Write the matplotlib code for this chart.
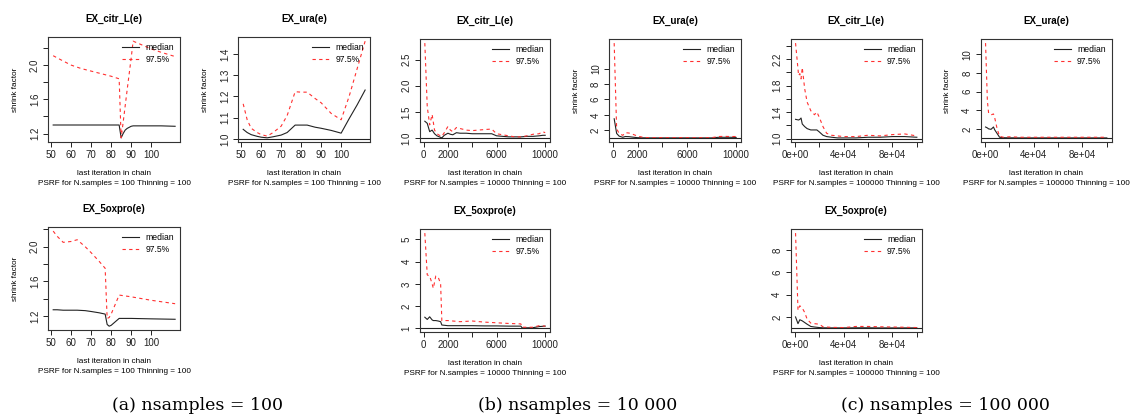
import matplotlib.pyplot as plt

# gelman plots
# (a) nsamples = 100
x_a_citr = [51, 55, 60, 65, 70, 75, 80, 84, 85, 86, 87, 88, 90, 91, 95, 100, 105, 112]
med_a_citr = [1.30, 1.30, 1.30, 1.30, 1.30, 1.30, 1.30, 1.30, 1.15, 1.20, 1.24, 1.26, 1.285, 1.29, 1.29, 1.29, 1.29, 1.285]
up_a_citr = [2.11, 2.06, 2.00, 1.96, 1.93, 1.90, 1.87, 1.84, 1.15, 1.33, 1.52, 1.71, 2.08, 2.28, 2.24, 2.19, 2.15, 2.10]

x_a_ura = [51, 53, 55, 58, 60, 63, 66, 70, 73, 77, 80, 83, 87, 90, 95, 100, 104, 108, 112]
med_a_ura = [1.045, 1.03, 1.02, 1.012, 1.008, 1.005, 1.01, 1.018, 1.03, 1.065, 1.065, 1.065, 1.055, 1.05, 1.04, 1.027, 1.095, 1.16, 1.23]
up_a_ura = [1.165, 1.09, 1.05, 1.03, 1.02, 1.013, 1.03, 1.06, 1.11, 1.222, 1.22, 1.22, 1.19, 1.17, 1.12, 1.09, 1.20, 1.33, 1.46]

x_a_5ox = [51, 53, 56, 60, 63, 67, 70, 74, 77, 78, 79, 80, 82, 84, 90, 100, 112]
med_a_5ox = [1.27, 1.27, 1.265, 1.265, 1.265, 1.26, 1.25, 1.235, 1.22, 1.10, 1.08, 1.09, 1.13, 1.17, 1.17, 1.165, 1.16]
up_a_5ox = [2.18, 2.12, 2.05, 2.06, 2.08, 2.00, 1.93, 1.83, 1.75, 1.17, 1.18, 1.22, 1.33, 1.44, 1.42, 1.38, 1.34]

# (b) nsamples = 10 000
x_b_citr = [100, 300, 500, 700, 900, 1100, 1300, 1500, 1700, 2000, 2200, 2400, 2700, 3000, 3500, 4000,
            4500, 5000, 5600, 6000, 6500, 7000, 7500, 8000, 8500, 9000, 9500, 9800, 10000]
med_b_citr = [1.32, 1.28, 1.12, 1.15, 1.08, 1.04, 1.02, 1.00, 1.05, 1.09, 1.07, 1.06, 1.10, 1.09, 1.09, 1.08,
              1.08, 1.08, 1.08, 1.04, 1.03, 1.02, 1.02, 1.02, 1.03, 1.03, 1.04, 1.05, 1.05]
up_b_citr = [2.82, 1.60, 1.25, 1.45, 1.15, 1.08, 1.05, 1.03, 1.10, 1.22, 1.15, 1.12, 1.20, 1.18, 1.15, 1.14,
             1.15, 1.16, 1.17, 1.08, 1.06, 1.04, 1.02, 1.02, 1.04, 1.07, 1.08, 1.12, 1.10]

x_b_ura = [100, 300, 500, 800, 1000, 1300, 1600, 2000, 2500, 3000, 4000, 5000, 6000, 7000, 8000, 8600, 9000, 9500, 10000]
med_b_ura = [3.5, 1.6, 1.25, 1.1, 1.2, 1.18, 1.12, 1.05, 1.03, 1.02, 1.02, 1.02, 1.02, 1.02, 1.02, 1.1, 1.1, 1.1, 1.08]
up_b_ura = [13.3, 2.2, 1.6, 1.35, 1.7, 1.65, 1.5, 1.25, 1.08, 1.05, 1.05, 1.05, 1.05, 1.04, 1.05, 1.2, 1.22, 1.2, 1.2]

x_b_5ox = [100, 300, 500, 700, 800, 1000, 1200, 1400, 1500, 2000, 3000, 4000, 5000, 6000, 7000, 8000, 8100, 9000, 9500, 10000]
med_b_5ox = [1.5, 1.4, 1.52, 1.38, 1.35, 1.35, 1.33, 1.3, 1.15, 1.12, 1.12, 1.12, 1.11, 1.11, 1.1, 1.1, 1.02, 1.03, 1.08, 1.1]
up_b_5ox = [5.28, 3.4, 3.35, 3.0, 2.8, 3.35, 3.3, 3.0, 1.35, 1.35, 1.3, 1.33, 1.28, 1.25, 1.22, 1.2, 1.05, 1.05, 1.12, 1.1]

# (c) nsamples = 100 000
x_c_citr = [500, 3000, 4000, 5000, 6000, 8000, 10000, 13000, 16000, 18000, 20000, 23000, 26000, 30000, 35000,
            40000, 50000, 60000, 70000, 80000, 90000, 100000]
med_c_citr = [1.29, 1.28, 1.29, 1.31, 1.22, 1.18, 1.15, 1.13, 1.13, 1.13, 1.10, 1.05, 1.03, 1.02, 1.01,
              1.01, 1.01, 1.02, 1.02, 1.03, 1.03, 1.02]
up_c_citr = [2.44, 1.95, 1.98, 1.90, 2.07, 1.75, 1.55, 1.42, 1.36, 1.40, 1.32, 1.18, 1.08, 1.05, 1.04,
             1.03, 1.03, 1.05, 1.04, 1.06, 1.07, 1.04]

x_c_ura = [500, 2000, 3000, 5000, 7000, 8000, 10000, 12000, 15000, 20000, 30000, 40000, 60000, 80000, 100000]
med_c_ura = [2.2, 2.1, 2.0, 1.95, 2.2, 1.9, 1.5, 1.1, 1.05, 1.04, 1.03, 1.03, 1.03, 1.03, 1.03]
up_c_ura = [11.2, 5.0, 3.7, 3.5, 3.6, 3.2, 2.0, 1.2, 1.1, 1.15, 1.1, 1.1, 1.1, 1.1, 1.1]

x_c_5ox = [500, 2500, 4000, 6000, 8000, 10000, 13000, 16000, 20000, 23000, 30000, 40000, 50000, 60000,
           70000, 80000, 90000, 100000]
med_c_5ox = [2.0, 1.4, 1.75, 1.65, 1.5, 1.35, 1.15, 1.1, 1.05, 1.03, 1.02, 1.02, 1.03, 1.03, 1.02, 1.02, 1.02, 1.02]
up_c_5ox = [9.5, 2.6, 3.0, 2.8, 2.4, 1.8, 1.45, 1.4, 1.35, 1.12, 1.07, 1.05, 1.15, 1.15, 1.12, 1.1, 1.08, 1.05]

captions = ['(a) nsamples = 100', '(b) nsamples = 10 000', '(c) nsamples = 100 000']

# tick sets
xt_a = [50, 60, 70, 80, 90, 100]
xl_a = ['50', '60', '70', '80', '90', '100']
xt_b = [0, 2000, 4000, 6000, 8000, 10000]
xl_b = ['0', '2000', '', '6000', '', '10000']
xt_c = [0, 20000, 40000, 60000, 80000, 100000]
xl_c = ['0e+00', '', '4e+04', '', '8e+04', '']

W, H = 1131, 417
plt.rcParams['font.family'] = ['Liberation Sans', 'DejaVu Sans']
fig = plt.figure(figsize=(W / 100, H / 100), dpi=100)

BLK = '#222222'
RED = '#ff3030'


def panel(box, title, x, med, up, nsamp, xt, xl, yt, yl, ylab=True):
    l, t, r, b = box
    ax = fig.add_axes([l / W, 1 - b / H, (r - l) / W, (b - t) / H])
    ax.plot(x, med, color=BLK, lw=0.8, label='median')
    ax.plot(x, up, color=RED, lw=0.8, dashes=(3, 3), label='97.5%')
    lo = min(med + up)
    hi = max(med + up)
    ax.set_ylim(lo - 0.04 * (hi - lo), hi + 0.04 * (hi - lo))
    ax.set_xlim(x[0] - 0.04 * (x[-1] - x[0]), x[-1] + 0.04 * (x[-1] - x[0]))
    ax.axhline(1, color=BLK, lw=0.8)
    ax.set_xticks(xt)
    ax.set_xticklabels(xl)
    ax.set_yticks(yt)
    ax.set_yticklabels(yl)
    ax.tick_params(direction='out', length=3.6, width=0.7, labelsize=7, pad=2.5, colors='#222222')
    ax.tick_params(axis='y', labelrotation=90)
    for lb in ax.get_yticklabels():
        lb.set_va('center')
    for s in ax.spines.values():
        s.set_color('#333333')
        s.set_linewidth(0.8)
    ax.annotate(title, xy=(0.5, 1), xycoords='axes fraction', xytext=(0, 13),
                textcoords='offset points', ha='center', va='center',
                fontsize=7, fontweight='bold')
    ax.annotate('last iteration in chain', xy=(0.5, 0), xycoords='axes fraction',
                xytext=(0, -22.8), textcoords='offset points', ha='center', va='center', fontsize=5.9)
    ax.annotate('PSRF for N.samples = %d Thinning = 100' % nsamp, xy=(0.5, 0), xycoords='axes fraction',
                xytext=(0, -30), textcoords='offset points', ha='center', va='center', fontsize=5.9)
    if ylab:
        ax.annotate('shrink factor', xy=(0, 0.5), xycoords='axes fraction', xytext=(-23.8, 0),
                    textcoords='offset points', ha='center', va='center', rotation=90, fontsize=5.9)
    ax.legend(loc='upper right', frameon=False, fontsize=6.2, handlelength=2.0,
              handletextpad=0.7, labelspacing=0.35, borderaxespad=0.4, borderpad=0.3)
    return ax


yt_a1 = [1.2, 1.4, 1.6, 1.8, 2.0, 2.2]
yl_a1 = ['1.2', '', '1.6', '', '2.0', '']
panel((48.3, 37.3, 180, 141.7), 'EX_citr_L(e)', x_a_citr, med_a_citr, up_a_citr, 100,
      xt_a, xl_a, yt_a1, yl_a1)
panel((238.3, 37.3, 370, 141.7), 'EX_ura(e)', x_a_ura, med_a_ura, up_a_ura, 100,
      xt_a, xl_a, [1.0, 1.1, 1.2, 1.3, 1.4], ['1.0', '1.1', '1.2', '1.3', '1.4'])
panel((48.3, 227.3, 180, 330), 'EX_5oxpro(e)', x_a_5ox, med_a_5ox, up_a_5ox, 100,
      xt_a, xl_a, yt_a1, yl_a1)

panel((420, 39.3, 550, 141.7), 'EX_citr_L(e)', x_b_citr, med_b_citr, up_b_citr, 10000,
      xt_b, xl_b, [1.0, 1.5, 2.0, 2.5], ['1.0', '1.5', '2.0', '2.5'], ylab=False)
panel((609.3, 39.3, 741, 141.7), 'EX_ura(e)', x_b_ura, med_b_ura, up_b_ura, 10000,
      xt_b, xl_b, [2, 4, 6, 8, 10], ['2', '4', '6', '8', '10'])
panel((420, 229.3, 550, 331.7), 'EX_5oxpro(e)', x_b_5ox, med_b_5ox, up_b_5ox, 10000,
      xt_b, xl_b, [1, 2, 3, 4, 5], ['1', '2', '3', '4', '5'], ylab=False)

yt_c1 = [1.0, 1.2, 1.4, 1.6, 1.8, 2.0, 2.2, 2.4]
yl_c1 = ['1.0', '', '1.4', '', '1.8', '', '2.2', '']
panel((790.7, 39.3, 921.7, 141.7), 'EX_citr_L(e)', x_c_citr, med_c_citr, up_c_citr, 100000,
      xt_c, xl_c, yt_c1, yl_c1, ylab=False)
panel((980.7, 39.3, 1111.7, 141.7), 'EX_ura(e)', x_c_ura, med_c_ura, up_c_ura, 100000,
      xt_c, xl_c, [2, 4, 6, 8, 10], ['2', '4', '6', '8', '10'])
panel((790.7, 229.3, 921.7, 331.7), 'EX_5oxpro(e)', x_c_5ox, med_c_5ox, up_c_5ox, 100000,
      xt_c, xl_c, [2, 4, 6, 8], ['2', '4', '6', '8'], ylab=False)

for cx, cap in zip([198, 578, 945], captions):
    fig.text(cx / W, 1 - 406 / H, cap, ha='center', va='center', fontsize=12.5, family='DejaVu Serif')

fig.savefig('out.png', dpi=100)
